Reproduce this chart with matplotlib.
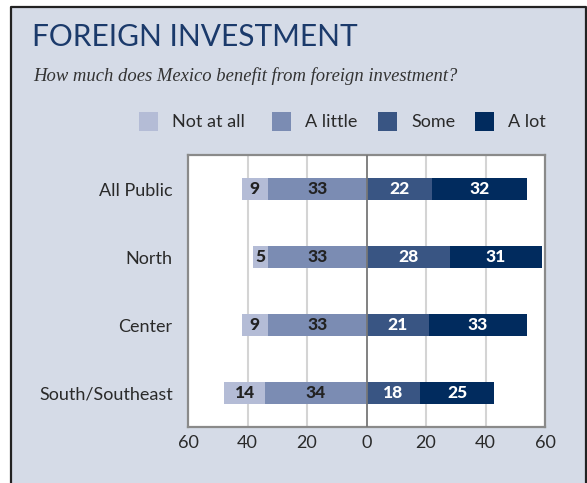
import matplotlib.pyplot as plt
from matplotlib.patches import Rectangle
import numpy as np

regions = ["All Public", "North", "Center", "South/Southeast"]
categories = ["Not at all", "A little", "Some", "A lot"]
not_at_all = [9, 5, 9, 14]
a_little = [33, 33, 33, 34]
some = [22, 28, 21, 18]
a_lot = [32, 31, 33, 25]

colors = ["#b4bcd6", "#7b8cb3", "#395583", "#012b5e"]
bg = "#d5dbe7"
W, H = 587, 483

plt.rcParams["font.family"] = ["Lato", "DejaVu Sans"]

fig = plt.figure(figsize=(W / 100, H / 100), dpi=100)
fig.patch.set_facecolor("white")

# panel background with border (top/left/right)
fig.add_artist(Rectangle((10 / W, 0), (586 - 10) / W, (H - 6) / H, transform=fig.transFigure,
                         facecolor=bg, edgecolor="none", zorder=-2))
fig.add_artist(plt.Line2D([10.5 / W, 10.5 / W, 585.5 / W, 585.5 / W],
                          [0, (H - 6.5) / H, (H - 6.5) / H, 0], transform=fig.transFigure,
                          color="#222222", lw=1.6))

fig.text(32 / W, 1 - 37 / H, "FOREIGN INVESTMENT", fontsize=21.5, color="#1b3a6b",
         va="center", ha="left", fontweight="normal")
fig.text(33 / W, 1 - 76 / H, "How much does Mexico benefit from foreign investment?",
         fontsize=13.4, color="#333333", va="center", ha="left",
         family="Liberation Serif", style="italic")

# legend drawn by hand
sq_x = [139, 272, 378, 475]
for x, lab, c in zip(sq_x, categories, colors):
    fig.add_artist(Rectangle((x / W, 1 - 131 / H), 19 / W, 19 / H, transform=fig.transFigure,
                             facecolor=c, edgecolor="none"))
    fig.text((x + 33) / W, 1 - 122 / H, lab, fontsize=13, color="#2a2a2a",
             va="center", ha="left")

ax = fig.add_axes([188 / W, 1 - 427 / H, (545 - 188) / W, (427 - 155) / H])
ax.set_facecolor("white")

y = np.arange(len(regions))
h = 0.32
left1 = -np.array(a_little)
left0 = left1 - np.array(not_at_all)
ax.barh(y, not_at_all, left=left0, height=h, color=colors[0], zorder=3)
ax.barh(y, a_little, left=left1, height=h, color=colors[1], zorder=3)
ax.barh(y, some, left=0, height=h, color=colors[2], zorder=3)
ax.barh(y, a_lot, left=np.array(some), height=h, color=colors[3], zorder=3)

lab_kw = dict(ha="center", va="center", fontsize=12.5, fontweight="black", zorder=4)
for i in range(len(regions)):
    ax.text(left0[i] + not_at_all[i] / 2, y[i], str(not_at_all[i]), color="#222222", **lab_kw)
    ax.text(left1[i] + a_little[i] / 2, y[i], str(a_little[i]), color="#222222", **lab_kw)
    ax.text(some[i] / 2, y[i], str(some[i]), color="white", **lab_kw)
    ax.text(some[i] + a_lot[i] / 2, y[i], str(a_lot[i]), color="white", **lab_kw)

ax.set_xlim(-60, 60)
ax.set_ylim(3.5, -0.5)
ticks = [-60, -40, -20, 0, 20, 40, 60]
ax.set_xticks(ticks)
ax.set_xticklabels([str(abs(t)) for t in ticks])
for t in [-40, -20, 20, 40]:
    ax.axvline(t, color="#d4d4d4", lw=1.5, zorder=1)
ax.axvline(0, color="#777777", lw=1.3, zorder=5)

ax.set_yticks(y)
ax.set_yticklabels(regions)
ax.tick_params(axis="both", length=0, labelsize=13, labelcolor="#2a2a2a")
ax.tick_params(axis="y", pad=11)
ax.tick_params(axis="x", pad=6)
for s in ax.spines.values():
    s.set_color("#8a8a8a")
    s.set_linewidth(1.6)

fig.savefig("out.png", dpi=100, facecolor=fig.get_facecolor())
